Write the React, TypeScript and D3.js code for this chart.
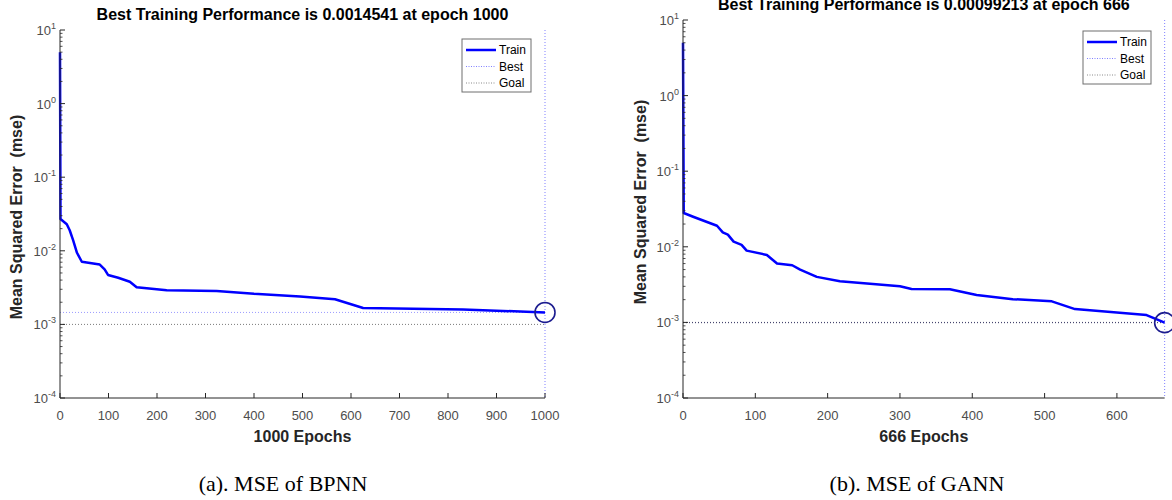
import React from "react";
import * as d3 from "d3";

const bpnnEpochs = [0, 1, 14, 20, 27, 35, 45, 82, 92, 99, 120, 144, 158, 220, 323, 400, 495, 567, 625, 831, 1000];
const bpnnMse = [5.0, 0.027, 0.023, 0.019, 0.014, 0.0094, 0.0071, 0.0065, 0.0056, 0.0047, 0.0043, 0.0038, 0.0032, 0.0029, 0.00285, 0.0026, 0.0024, 0.0022, 0.00167, 0.0016, 0.0014541];
const gannEpochs = [0, 1, 14, 47, 55, 62, 70, 81, 88, 116, 130, 151, 162, 185, 217, 300, 316, 369, 406, 456, 510, 542, 641, 666];
const gannMse = [5.0, 0.028, 0.025, 0.019, 0.0155, 0.0145, 0.0117, 0.0106, 0.0089, 0.0078, 0.006, 0.0057, 0.005, 0.004, 0.0035, 0.003, 0.00277, 0.00275, 0.0023, 0.00203, 0.0019, 0.0015, 0.00125, 0.00099213];

const bpnnXTicks = [0, 100, 200, 300, 400, 500, 600, 700, 800, 900, 1000];
const gannXTicks = [0, 100, 200, 300, 400, 500, 600];
const yExponents = [1, 0, -1, -2, -3, -4];
const legendLabels = ["Train", "Best", "Goal"];
const captions = ["(a). MSE of BPNN", "(b). MSE of GANN"];
const titles = [
  "Best Training Performance is 0.0014541 at epoch 1000",
  "Best Training Performance is 0.00099213 at epoch 666",
];
const xLabels = ["1000 Epochs", "666 Epochs"];
const bestEpochs = [1000, 666];
const bestValues = [0.0014541, 0.00099213];
const goalValue = 0.001;

const SANS = "'Liberation Sans', Arial, Helvetica, sans-serif";
const SERIF = "'Liberation Serif', 'Times New Roman', serif";

type PanelProps = {
  epochs: number[];
  mse: number[];
  xMax: number;
  xTicks: number[];
  left: number;
  right: number;
  top: number;
  bottom: number;
  title: string;
  titleY: number;
  xLabel: string;
  yLabelX: number;
  yLabelY: number;
  bestEpoch: number;
  bestValue: number;
  legend: { x: number; y: number; w: number; h: number };
  caption: string;
  captionX: number;
  bestColor: string;
};

function Panel(p: PanelProps) {
  const x = d3.scaleLinear().domain([0, p.xMax]).range([p.left, p.right]);
  const y = d3.scaleLog().domain([1e-4, 10]).range([p.bottom, p.top]);
  const line = d3
    .line<number>()
    .x((_, i) => x(p.epochs[i]))
    .y((d) => y(d));
  const minor: number[] = [];
  for (let e = -4; e < 1; e++) for (let k = 2; k <= 9; k++) minor.push(k * Math.pow(10, e));
  const axisColor = "#262626";
  const tickColor = "#4d4d4d";
  const cx = (p.left + p.right) / 2;
  const lg = p.legend;
  return (
    <g>
      <text x={cx} y={p.titleY} textAnchor="middle" fontFamily={SANS} fontWeight="bold" fontSize={16} fill="#000">
        {p.title}
      </text>
      <line x1={p.left} x2={p.right} y1={y(goalValue)} y2={y(goalValue)} stroke="#7a7a7a" strokeWidth={1} strokeDasharray="1 2" />
      <line x1={p.left} x2={p.right} y1={y(p.bestValue)} y2={y(p.bestValue)} stroke={p.bestColor} strokeWidth={1} strokeDasharray="1 2" />
      <line x1={x(p.bestEpoch)} x2={x(p.bestEpoch)} y1={p.top} y2={p.bottom} stroke="#8080ff" strokeWidth={1} strokeDasharray="1 2" />
      <path d={line(p.mse) || ""} fill="none" stroke="#0000ff" strokeWidth={2.5} strokeLinejoin="round" />
      <circle cx={x(p.bestEpoch)} cy={y(p.bestValue)} r={10} fill="none" stroke="#1c1c8f" strokeWidth={1.6} />
      <line x1={p.left} x2={p.left} y1={p.top} y2={p.bottom} stroke={axisColor} strokeWidth={1} />
      <line x1={p.left} x2={p.right} y1={p.bottom} y2={p.bottom} stroke={axisColor} strokeWidth={1} />
      {minor.map((v, i) => (
        <line key={"m" + i} x1={p.left} x2={p.left + 2.5} y1={y(v)} y2={y(v)} stroke={axisColor} strokeWidth={0.8} />
      ))}
      {yExponents.map((e) => (
        <g key={"y" + e}>
          <line x1={p.left} x2={p.left + 5} y1={y(Math.pow(10, e))} y2={y(Math.pow(10, e))} stroke={axisColor} strokeWidth={1} />
          <text x={p.left - 4} y={y(Math.pow(10, e)) + 5} textAnchor="end" fontFamily={SANS} fontSize={13} fill={tickColor}>
            10
            <tspan dy={-6} fontSize={9}>
              {String(e)}
            </tspan>
          </text>
        </g>
      ))}
      {p.xTicks.map((t) => (
        <g key={"x" + t}>
          <line x1={x(t)} x2={x(t)} y1={p.bottom} y2={p.bottom - 5} stroke={axisColor} strokeWidth={1} />
          <text x={x(t)} y={p.bottom + 22} textAnchor="middle" fontFamily={SANS} fontSize={13} fill={tickColor}>
            {t}
          </text>
        </g>
      ))}
      <text x={cx} y={p.bottom + 44} textAnchor="middle" fontFamily={SANS} fontWeight="bold" fontSize={16} fill="#262626">
        {p.xLabel}
      </text>
      <text
        transform={`translate(${p.yLabelX},${p.yLabelY}) rotate(-90)`}
        textAnchor="middle"
        fontFamily={SANS}
        fontWeight="bold"
        fontSize={16}
        fill="#262626"
        style={{ whiteSpace: "pre" }}
      >
        {"Mean Squared Error  (mse)"}
      </text>
      <rect x={lg.x} y={lg.y} width={lg.w} height={lg.h} fill="#fff" stroke="#6e6e6e" strokeWidth={1} />
      {legendLabels.map((lab, i) => {
        const ly = lg.y + 11 + i * 16.5;
        const stroke = i === 0 ? "#0000ff" : i === 1 ? "#8080ff" : "#8a8a8a";
        return (
          <g key={lab}>
            <line
              x1={lg.x + 4}
              x2={lg.x + 34}
              y1={ly}
              y2={ly}
              stroke={stroke}
              strokeWidth={i === 0 ? 2.5 : 1}
              strokeDasharray={i === 0 ? undefined : "1 1.5"}
            />
            <text x={lg.x + 37} y={ly + 4} fontFamily={SANS} fontSize={12} fill="#000">
              {lab}
            </text>
          </g>
        );
      })}
      <text x={p.captionX} y={491} textAnchor="middle" fontFamily={SERIF} fontSize={22} fill="#000">
        {p.caption}
      </text>
    </g>
  );
}

export default function App() {
  return (
    <svg width={1172} height={500} style={{ position: "absolute", left: 0, top: 0, background: "#fff" }}>
      <rect x={0} y={0} width={1172} height={500} fill="#fff" />
      <Panel
        epochs={bpnnEpochs}
        mse={bpnnMse}
        xMax={1000}
        xTicks={bpnnXTicks}
        left={60}
        right={545}
        top={30}
        bottom={398}
        title={titles[0]}
        titleY={20}
        xLabel={xLabels[0]}
        yLabelX={22}
        yLabelY={217}
        bestEpoch={bestEpochs[0]}
        bestValue={bestValues[0]}
        legend={{ x: 462, y: 39, w: 69, h: 53 }}
        caption={captions[0]}
        captionX={283}
        bestColor="#9a9aff"
      />
      <Panel
        epochs={gannEpochs}
        mse={gannMse}
        xMax={666}
        xTicks={gannXTicks}
        left={683}
        right={683 + 666 * 0.7232}
        top={20}
        bottom={398}
        title={titles[1]}
        titleY={10}
        xLabel={xLabels[1]}
        yLabelX={646}
        yLabelY={202}
        bestEpoch={bestEpochs[1]}
        bestValue={bestValues[1]}
        legend={{ x: 1083, y: 31, w: 68, h: 53 }}
        caption={captions[1]}
        captionX={917}
        bestColor="#3a3a6a"
      />
    </svg>
  );
}
